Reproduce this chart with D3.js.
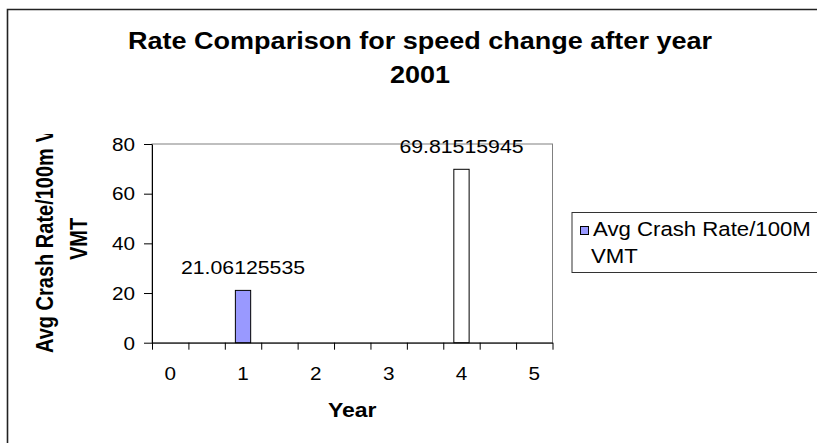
<html>
<head>
<title>Rate Comparison</title>
<style>
  html, body { margin: 0; padding: 0; background: #fff; overflow: hidden; }
  text { font-family: Arial, "Liberation Sans", sans-serif; }
</style>
</head>
<body>
<div id="chart"></div>
<script src="https://cdn.jsdelivr.net/npm/d3@7"></script>
<script>
(function(){
  "use strict";

  // chart data
  var years = [1, 4];
  var rates = [21.06125535, 69.81515945];
  var barColors = ["#9999FF", "#FFFFFF"];
  var yTicks = [0, 20, 40, 60, 80];
  var xLabels = [0, 1, 2, 3, 4, 5];
  var titleLines = ["Rate Comparison for speed change after year", "2001"];
  var yTitleLines = ["Avg Crash Rate/100m V", "VMT"];
  var xTitle = "Year";
  var legendLines = ["Avg Crash Rate/100M", "VMT"];

  var width = 817, height = 443;
  // picture is a bit wider than tall, stretch text the same way
  var sx = 1.15;

  var plot = {left: 152, right: 552.5, top: 144, bottom: 342.7};

  var x = d3.scaleLinear().domain([-0.25, 5.25]).range([plot.left, plot.right]);
  var y = d3.scaleLinear().domain([0, 80]).range([plot.bottom, plot.top]);

  var svg = d3.select("#chart").append("svg")
    .attr("width", width)
    .attr("height", height)
    .style("display", "block")
    .style("overflow", "hidden")
    .style("background", "#fff");

  // outer chart border, only top and left are inside the picture
  svg.append("path")
    .attr("d", "M7.5," + height + "V9.5H" + width)
    .attr("fill", "none")
    .attr("stroke", "#222")
    .attr("stroke-width", 1.6);

  // title
  svg.selectAll("text.title").data(titleLines).enter().append("text")
    .attr("class", "title")
    .attr("transform", function(d, i){ return "translate(420," + (49.3 + i * 34) + ") scale(" + sx + ",1)"; })
    .attr("text-anchor", "middle")
    .style("font-size", "23.5px")
    .style("font-weight", "bold")
    .text(function(d){ return d; });

  // plot area border (gray top / right)
  svg.append("rect")
    .attr("x", plot.left).attr("y", plot.top)
    .attr("width", plot.right - plot.left)
    .attr("height", plot.bottom - plot.top)
    .attr("fill", "none")
    .attr("stroke", "#808080")
    .attr("stroke-width", 1);

  // bars
  var barW = (x(0.5) - x(0)) * 0.42;
  svg.selectAll("rect.bar").data(rates).enter().append("rect")
    .attr("class", "bar")
    .attr("x", function(d, i){ return x(years[i]) - barW / 2; })
    .attr("y", function(d){ return y(d); })
    .attr("width", barW)
    .attr("height", function(d){ return y(0) - y(d); })
    .attr("fill", function(d, i){ return barColors[i]; })
    .attr("stroke", "#000")
    .attr("stroke-width", 1);

  // data labels
  svg.selectAll("text.lbl").data(rates).enter().append("text")
    .attr("class", "lbl")
    .attr("transform", function(d, i){ return "translate(" + x(years[i]) + "," + (y(d) - 16) + ") scale(" + sx + ",1)"; })
    .attr("text-anchor", "middle")
    .style("font-size", "18.5px")
    .text(function(d){ return d.toFixed(8); });

  // y axis
  var yAxis = svg.append("g")
    .attr("transform", "translate(" + plot.left + ",0)")
    .call(d3.axisLeft(y).tickValues(yTicks).tickSize(8).tickSizeOuter(0));
  yAxis.select(".domain").attr("stroke", "#000");
  yAxis.selectAll(".tick line").attr("stroke", "#000");
  yAxis.selectAll(".tick text")
    .attr("x", 0).attr("dy", "0.35em")
    .attr("transform", "translate(-17,0) scale(" + sx + ",1)")
    .attr("fill", "#000")
    .style("font-size", "18px")
    .style("font-family", "Arial, 'Liberation Sans', sans-serif");

  // x axis: ticks between categories
  var xTickVals = d3.range(0, 12).map(function(k){ return -0.25 + k * 0.5; });
  var xAxis = svg.append("g")
    .attr("transform", "translate(0," + plot.bottom + ")")
    .call(d3.axisBottom(x).tickValues(xTickVals).tickSize(7).tickSizeOuter(0).tickFormat(""));
  xAxis.select(".domain").attr("stroke", "#000");
  xAxis.selectAll(".tick line").attr("stroke", "#000");

  // x labels
  svg.selectAll("text.xl").data(xLabels).enter().append("text")
    .attr("class", "xl")
    .attr("transform", function(d){ return "translate(" + x(d) + ",380) scale(" + sx + ",1)"; })
    .attr("text-anchor", "middle")
    .style("font-size", "18px")
    .text(function(d){ return d; });

  // x title
  svg.append("text")
    .attr("transform", "translate(" + ((plot.left + plot.right) / 2) + ",417) scale(" + sx + ",1)")
    .attr("text-anchor", "middle")
    .style("font-size", "20px")
    .style("font-weight", "bold")
    .text(xTitle);

  // y title, first line is cut off at the top
  svg.append("clipPath").attr("id", "ytclip")
    .append("rect").attr("x", 0).attr("y", 134).attr("width", 120).attr("height", 300);
  var yt = svg.append("g").attr("clip-path", "url(#ytclip)");
  yt.append("text")
    .attr("transform", "translate(53.3,353) scale(" + sx + ",1) rotate(-90)")
    .attr("text-anchor", "start")
    .style("font-size", "20px")
    .style("font-weight", "bold")
    .text(yTitleLines[0]);
  yt.append("text")
    .attr("transform", "translate(86.5,239) scale(" + sx + ",1) rotate(-90)")
    .attr("text-anchor", "middle")
    .style("font-size", "20px")
    .style("font-weight", "bold")
    .text(yTitleLines[1]);

  // legend
  var lg = svg.append("g");
  lg.append("rect")
    .attr("x", 572).attr("y", 212.5)
    .attr("width", 300).attr("height", 60)
    .attr("fill", "#fff")
    .attr("stroke", "#333")
    .attr("stroke-width", 1);
  lg.append("rect")
    .attr("x", 580.5).attr("y", 226.5)
    .attr("width", 8).attr("height", 8)
    .attr("fill", barColors[0])
    .attr("stroke", "#000")
    .attr("stroke-width", 1);
  lg.selectAll("text").data(legendLines).enter().append("text")
    .attr("transform", function(d, i){ return "translate(" + (i === 0 ? 593 : 591) + "," + (236 + i * 27) + ") scale(" + sx + ",1)"; })
    .style("font-size", "19.3px")
    .text(function(d){ return d; });

})();
</script>
</body>
</html>
